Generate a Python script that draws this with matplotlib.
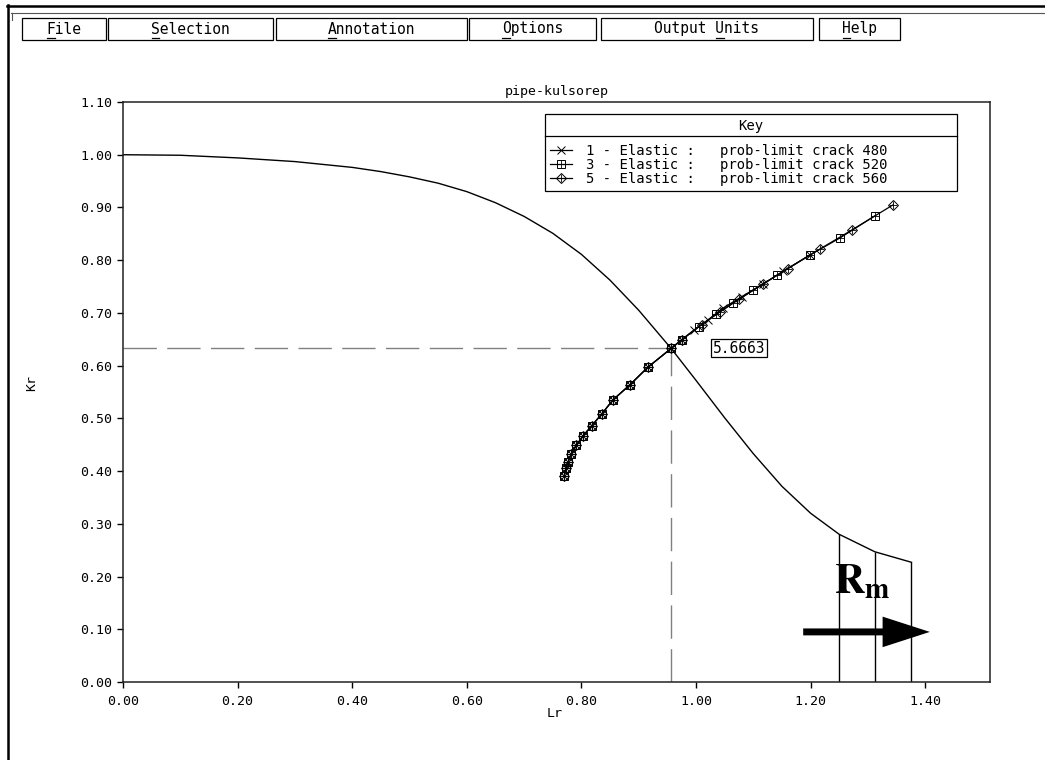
import matplotlib
matplotlib.use("Agg")
import matplotlib.pyplot as plt
from matplotlib.lines import Line2D
from matplotlib.patches import Rectangle, FancyArrowPatch
from matplotlib.legend_handler import HandlerTuple

plt.rcParams['font.family'] = ['DejaVu Sans Mono']
plt.rcParams['mathtext.fontset'] = 'stix'

# failure assessment curve
curve_lr = [0.00, 0.10, 0.20, 0.30, 0.40, 0.45, 0.50, 0.55, 0.60, 0.65, 0.70,
            0.75, 0.80, 0.85, 0.90, 0.957, 1.00, 1.05, 1.10, 1.15, 1.20,
            1.25, 1.312, 1.376]
curve_kr = [1.000, 0.999, 0.994, 0.987, 0.976, 0.968, 0.958, 0.946, 0.930,
            0.909, 0.883, 0.851, 0.811, 0.762, 0.705, 0.632, 0.572, 0.501,
            0.433, 0.371, 0.320, 0.280, 0.247, 0.227]

# cut-off lines under the curve
rm_lr = [1.250, 1.312, 1.376]
rm_kr = [0.280, 0.247, 0.227]

# critical point
crit_lr = 0.957
crit_kr = 0.633
crit_label = '5.6663'

# assessment points: common lower branch
lower_lr = [0.770, 0.773, 0.777, 0.782, 0.791, 0.803, 0.818, 0.836, 0.855,
            0.885, 0.916, 0.957]
lower_kr = [0.391, 0.405, 0.418, 0.432, 0.449, 0.467, 0.486, 0.509, 0.535,
            0.564, 0.597, 0.633]

# upper branches of each case
s1_up_lr = [0.975, 0.997, 1.021, 1.047, 1.080, 1.117, 1.152, 1.199]
s1_up_kr = [0.649, 0.668, 0.687, 0.709, 0.731, 0.755, 0.779, 0.810]
s3_up_lr = [0.975, 1.005, 1.035, 1.065, 1.100, 1.141, 1.199, 1.251, 1.312]
s3_up_kr = [0.649, 0.674, 0.697, 0.719, 0.743, 0.771, 0.810, 0.842, 0.884]
s5_up_lr = [0.975, 1.010, 1.042, 1.075, 1.117, 1.160, 1.216, 1.273, 1.344]
s5_up_kr = [0.649, 0.678, 0.702, 0.726, 0.755, 0.784, 0.821, 0.858, 0.905]

labels = ['1 - Elastic :   prob-limit crack 480',
          '3 - Elastic :   prob-limit crack 520',
          '5 - Elastic :   prob-limit crack 560']

menu_items = ['File', 'Selection', 'Annotation', 'Options', 'Output Units', 'Help']
menu_underline = [0, 0, 0, 0, 7, 0]

xticks = [0.0, 0.2, 0.4, 0.6, 0.8, 1.0, 1.2, 1.4]
yticks = [0.0, 0.1, 0.2, 0.3, 0.4, 0.5, 0.6, 0.7, 0.8, 0.9, 1.0, 1.1]

W, H = 1045, 760
fig = plt.figure(figsize=(W / 100, H / 100), dpi=100)
fig.patch.set_facecolor('white')

# window frame
fig.add_artist(Line2D([7 / W, 1], [1 - 6 / H, 1 - 6 / H], transform=fig.transFigure,
                      color='black', lw=1.8))
fig.add_artist(Line2D([11 / W, 1], [1 - 12.5 / H, 1 - 12.5 / H], transform=fig.transFigure,
                      color='#555555', lw=0.8))
fig.add_artist(Line2D([8 / W, 8 / W], [0, 1 - 5 / H], transform=fig.transFigure,
                      color='black', lw=1.8))
fig.add_artist(Line2D([11.5 / W, 11.5 / W], [1 - 12.5 / H, 1 - 20 / H],
                      transform=fig.transFigure, color='#555555', lw=0.8))

# menu bar
menu_x = [22, 108, 276, 469, 601, 819]
menu_w = [84, 165, 191, 127, 212, 81]
menu_texts = []
for name, x0, w in zip(menu_items, menu_x, menu_w):
    fig.add_artist(Rectangle((x0 / W, 1 - 40 / H), w / W, 22 / H,
                             transform=fig.transFigure, fill=False,
                             ec='black', lw=0.9))
    t = fig.text((x0 + w / 2) / W, 1 - 29 / H, name, ha='center', va='center',
                 fontsize=10.5, color='black')
    menu_texts.append(t)

ax = fig.add_axes([123 / W, 78 / H, 867 / W, 580 / H])

ax.plot(curve_lr, curve_kr, color='black', lw=1.0)
ax.vlines(rm_lr, 0, rm_kr, colors='black', lw=1.0)

ax.plot([0, crit_lr], [crit_kr, crit_kr], color='#808080', lw=1.0, dashes=(24, 7.5))
ax.plot([crit_lr, crit_lr], [0, crit_kr], color='#808080', lw=1.0, dashes=(24, 7.5))

s1_lr, s1_kr = lower_lr + s1_up_lr, lower_kr + s1_up_kr
s3_lr, s3_kr = lower_lr + s3_up_lr, lower_kr + s3_up_kr
s5_lr, s5_kr = lower_lr + s5_up_lr, lower_kr + s5_up_kr

l1, = ax.plot(s1_lr, s1_kr, color='black', lw=0.9, marker='x', ms=5.5, mew=0.7)
l3, = ax.plot(s3_lr, s3_kr, color='black', lw=0.9, marker='s', ms=5.5,
              mfc='none', mew=0.7)
l3p, = ax.plot(s3_lr, s3_kr, ls='none', color='black', marker='+', ms=5.5, mew=0.6)
l5, = ax.plot(s5_lr, s5_kr, color='black', lw=0.9, marker='D', ms=5,
              mfc='none', mew=0.7)
l5p, = ax.plot(s5_lr, s5_kr, ls='none', color='black', marker='+', ms=5.5, mew=0.6)

ax.text(crit_lr + 0.073, crit_kr, crit_label, ha='left', va='center', fontsize=10.5,
        bbox=dict(boxstyle='square,pad=0.12', fc='white', ec='black', lw=0.9))

# R_m annotation with arrow
ax.text(1.240, 0.169, r'$\mathbf{R}_{\mathbf{m}}$', fontsize=30, ha='left',
        va='baseline', color='black')
ax.add_patch(FancyArrowPatch((1.187, 0.095), (1.408, 0.095),
                             arrowstyle='simple,head_length=3.4,head_width=2.2,tail_width=0.5',
                             mutation_scale=10, color='black', lw=0,
                             shrinkA=0, shrinkB=0))

ax.set_xlim(0, 1.513)
ax.set_ylim(0, 1.10)
ax.set_xticks(xticks)
ax.set_yticks(yticks)
ax.set_xticklabels(['%.2f' % v for v in xticks])
ax.set_yticklabels(['%.2f' % v for v in yticks])
ax.tick_params(direction='out', length=4.5, width=1, labelsize=9.5, colors='black')
ax.tick_params(axis='x', pad=5)
ax.tick_params(axis='y', pad=3)
for sp in ax.spines.values():
    sp.set_linewidth(1.1)
    sp.set_color('#222222')

ax.set_title('pipe-kulsorep', fontsize=9.5, pad=5)
ax.set_xlabel('Lr', fontsize=9.5)
ax.set_ylabel('Kr', fontsize=9.5)
ax.xaxis.set_label_coords(0.498, -0.043)
ax.yaxis.set_label_coords(-0.098, 0.515)

leg = ax.legend([l1, (l3, l3p), (l5, l5p)], labels,
                handler_map={tuple: HandlerTuple(ndivide=1)},
                title='Key', title_fontsize=10, prop={'size': 10},
                loc='upper left', bbox_to_anchor=(0.4867, 0.7793, 0.4752, 0.2),
                mode='expand', borderaxespad=0, fancybox=False,
                edgecolor='black', framealpha=1, handlelength=1.6,
                handletextpad=1.0, labelspacing=0.0, borderpad=0.35)
leg.get_frame().set_linewidth(0.9)
# gap between the "Key" header and the entries
leg._legend_box.sep = 8

fig.canvas.draw()
r = fig.canvas.get_renderer()
fb = leg.get_frame().get_window_extent(r)
tb = leg.get_title().get_window_extent(r)
ysep = tb.y0 - 3
fig.add_artist(Line2D([fb.x0 / W, fb.x1 / W], [ysep / H, ysep / H],
                      transform=fig.transFigure, color='black', lw=0.9))

# underline the access letter of each menu entry
for t, idx in zip(menu_texts, menu_underline):
    bb = t.get_window_extent(r)
    cw = bb.width / len(t.get_text())
    x0 = bb.x0 + idx * cw + 0.5
    x1 = x0 + cw - 1
    fig.add_artist(Line2D([x0 / W, x1 / W], [1 - 37.5 / H, 1 - 37.5 / H],
                          transform=fig.transFigure, color='black', lw=0.9))

fig.savefig('out.png', dpi=100)
